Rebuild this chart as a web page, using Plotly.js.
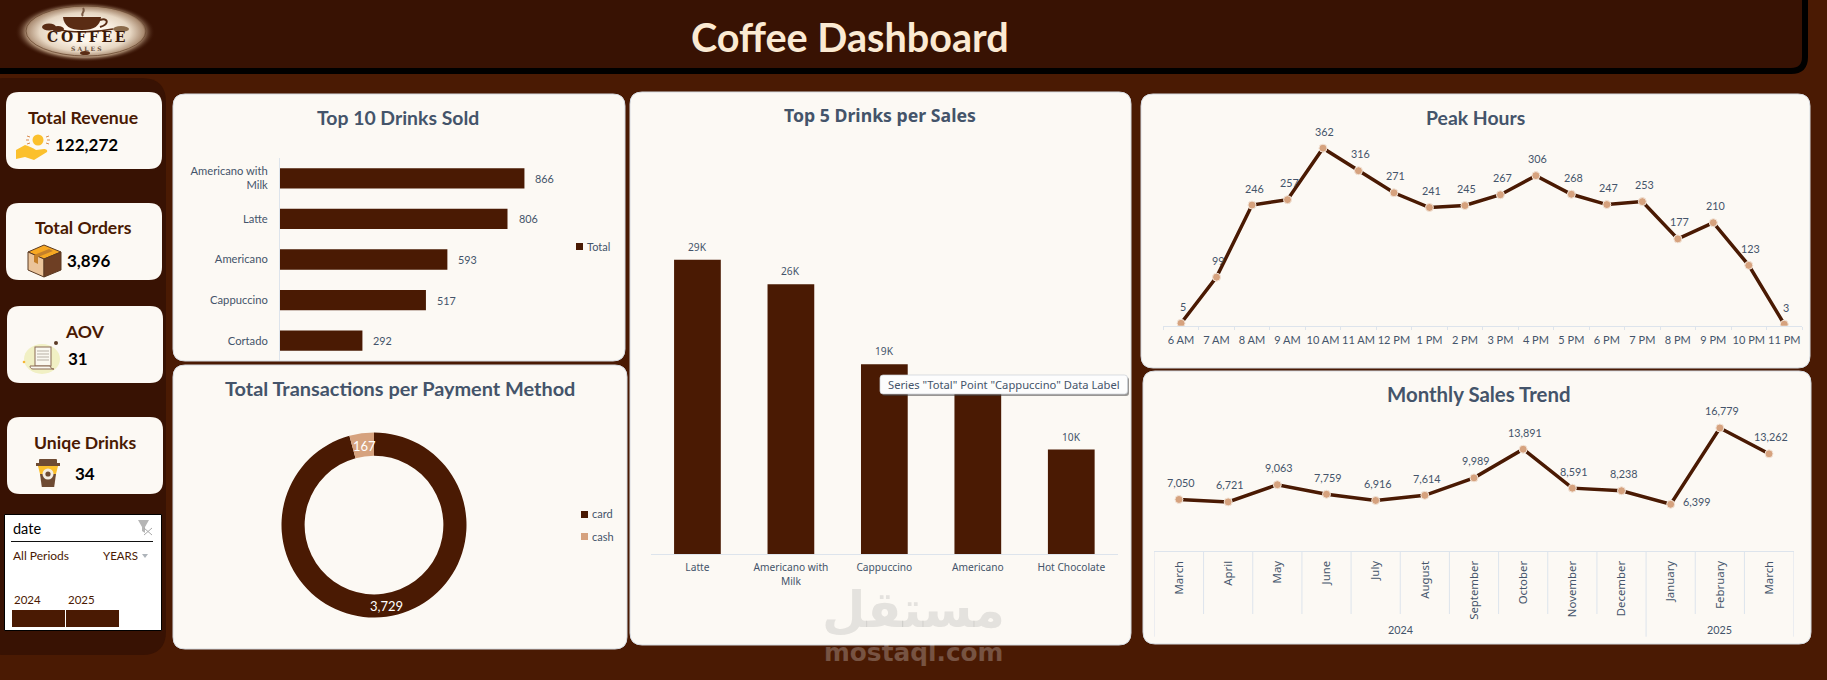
<!DOCTYPE html>
<html><head><meta charset="utf-8">
<script src="https://cdn.plot.ly/plotly-3.0.1.min.js"></script>
<style>html,body{margin:0;padding:0;background:#4A1A03;overflow:hidden}#c{width:1827px;height:680px}</style>
</head><body><div id="c"></div>
<script>
// ---- data ----
const topDrinks = ['Americano with Milk','Latte','Americano','Cappuccino','Cortado'];
const topDrinkTicks = ['Americano with<br>Milk','Latte','Americano','Cappuccino','Cortado'];
const topDrinkSold = [866,806,593,517,292];
const salesDrinks = ['Latte','Americano with Milk','Cappuccino','Americano','Hot Chocolate'];
const salesDrinkTicks = ['Latte','Americano with<br>Milk','Cappuccino','Americano','Hot Chocolate'];
const salesValues = [29000,26600,18700,16000,10300];
const salesLabels = ['29K','26K','19K','','10K'];
const paymentMethods = ['card','cash'];
const paymentCounts = [3729,167];
const hours = ['6 AM','7 AM','8 AM','9 AM','10 AM','11 AM','12 PM','1 PM','2 PM','3 PM','4 PM','5 PM','6 PM','7 PM','8 PM','9 PM','10 PM','11 PM'];
const hourCounts = [5,99,246,257,362,316,271,241,245,267,306,268,247,253,177,210,123,3];
const monthYears = ['2024','2024','2024','2024','2024','2024','2024','2024','2024','2024','2025','2025','2025'];
const months = ['March','April','May','June','July','August','September','October','November','December','January','February','March'];
const monthSales = [7050,6721,9063,7759,6916,7614,9989,13891,8591,8238,6399,16779,13262];
const kpis = [
  {t:'Total Revenue',v:'122,272',tx:83,ty:117,vx:86,vy:144},
  {t:'Total Orders',v:'3,896',tx:83,ty:228,vx:89,vy:260},
  {t:'AOV',v:'31',tx:84.5,ty:331,vx:78,vy:358},
  {t:'Uniqe Drinks',v:'34',tx:84.5,ty:442,vx:85,vy:473}
];

// ---- helpers ----
const W=1827,H=680;
const BG='#4A1A03',DARK='#381203',PANEL='#FCF9F4',INK='#44546A',BAR='#4A1A03',TAN='#D6A27E',AXIS='#DDE4EC';
const FONT='Lato, Carlito, sans-serif', WIDE='"Noto Sans", sans-serif';
const px=x=>x/W, py=y=>1-y/H;
const fx=(a,b)=>[px(a),px(b)], fy=(top,bottom)=>[py(bottom),py(top)];
function rr(x0,y0,x1,y1,r,c){
  c=c||[r,r,r,r];
  const P=(x,y)=>px(x)+','+py(y);
  return 'M'+P(x0+c[0],y0)+' L'+P(x1-c[1],y0)+' Q'+P(x1,y0)+' '+P(x1,y0+c[1])+
    ' L'+P(x1,y1-c[2])+' Q'+P(x1,y1)+' '+P(x1-c[2],y1)+
    ' L'+P(x0+c[3],y1)+' Q'+P(x0,y1)+' '+P(x0,y1-c[3])+
    ' L'+P(x0,y0+c[0])+' Q'+P(x0,y0)+' '+P(x0+c[0],y0)+' Z';
}
const shapes=[], annotations=[], images=[];
function box(x0,y0,x1,y1,r,fill,line,lw,layer){
  shapes.push({type:'path',xref:'paper',yref:'paper',path:rr(x0,y0,x1,y1,r),fillcolor:fill,
    line:{color:line||fill,width:lw===undefined?0:lw},layer:layer||'below'});
}
function rect(x0,y0,x1,y1,fill,layer){
  shapes.push({type:'rect',xref:'paper',yref:'paper',x0:px(x0),x1:px(x1),y0:py(y0),y1:py(y1),
    fillcolor:fill,line:{width:0},layer:layer||'below'});
}
function txt(s,x,y,size,color,o){
  o=o||{};
  annotations.push({text:s,xref:'paper',yref:'paper',x:px(x),y:py(y),xanchor:o.a||'center',yanchor:'middle',
    showarrow:false,borderpad:0,font:{family:o.f||FONT,size:size,color:color,weight:o.b?700:400}});
}
function icon(svg,x0,y0,x1,y1){
  images.push({source:'data:image/svg+xml;utf8,'+encodeURIComponent(svg),xref:'paper',yref:'paper',
    x:px(x0),y:py(y0),sizex:px(x1-x0),sizey:(y1-y0)/H,xanchor:'left',yanchor:'top',sizing:'stretch',layer:'above'});
}

// ---- frame ----
shapes.push({type:'path',xref:'paper',yref:'paper',path:rr(-30,-20,1805,71,14,[14,14,14,10]),fillcolor:DARK,line:{color:'#000',width:6},layer:'below'});
box(-20,78,166,655,24,DARK);
[[173,94,625,361],[173,365,627,649],[630,92,1131,645],[1141,94,1810,368],[1143,371,1811,644]].forEach(p=>{
  box(p[0],p[1],p[2],p[3],12,PANEL,'#D5DAE0',1);
});
[[6,92,162,169],[6,203,162,280],[7,306,163,383],[7,417,163,494]].forEach(p=>box(p[0],p[1],p[2],p[3],13,PANEL));
kpis.forEach(k=>{txt(k.t,k.tx,k.ty,17.6,BG,{b:1});txt(k.v,k.vx,k.vy,17,'#000',{b:1});});
txt('Coffee Dashboard',850,36,39.6,'#FBEAD3',{b:1});
icon(`<svg xmlns="http://www.w3.org/2000/svg" viewBox="0 0 140 64"><defs><radialGradient id="g"><stop offset="0.3" stop-color="#fff8ee"/><stop offset="0.65" stop-color="#e6d6c2"/><stop offset="0.84" stop-color="#a98a70"/><stop offset="1" stop-color="#381203" stop-opacity="0"/></radialGradient></defs><ellipse cx="70" cy="30" rx="70" ry="30" fill="url(#g)"/><ellipse cx="71" cy="29" rx="60" ry="25" fill="none" stroke="#6b4a32" stroke-width="0.8"/><path d="M48 15h38c-1 9-7 13-19 13s-18-4-19-13z" fill="#5a2c14"/><path d="M85 18c8-3 10 4 0 7" fill="none" stroke="#5a2c14" stroke-width="2"/><path d="M42 27c12 4 36 4 56 0" fill="none" stroke="#5a2c14" stroke-width="1.5"/><path d="M68 14c-3-3 3-4 0-8" fill="none" stroke="#7a5a44" stroke-width="2"/><ellipse cx="34" cy="25" rx="7" ry="3.5" fill="#5a2c14"/><ellipse cx="43" cy="27" rx="6" ry="3" fill="#5a2c14"/><ellipse cx="106" cy="27" rx="8" ry="3" fill="#8a6a4a"/><ellipse cx="70" cy="51" rx="5" ry="2" fill="#5a2c14"/></svg>`,15,2,155,66);
txt('C\u2009O\u2009F\u2009F\u2009E\u2009E',86,37,14,'#3A1A0A',{f:'"DejaVu Serif", serif',b:1});
txt('S A L E S',86,49,6,'#6a5040',{f:'"DejaVu Serif", serif',b:1});
icon(`<svg xmlns="http://www.w3.org/2000/svg" viewBox="0 0 34 28"><circle cx="22" cy="7" r="5.5" fill="#FBC02D"/><g stroke="#D98A4B" stroke-width="1"><path d="M11 3l3 1M10 7h3M11 11l3-1M33 3l-3 1M34 7h-3M33 11l-3-1"/></g><path d="M0 17l9-5c4 1 8 3 11 5l8-1c2 0 4 1 3 3l-13 8-9-3-9 2z" fill="#FBC02D"/></svg>`,16,133,50,161);
icon(`<svg xmlns="http://www.w3.org/2000/svg" viewBox="0 0 35 34"><path d="M17 1l17 7-17 7L1 8z" fill="#F7A823" stroke="#5b3a22"/><path d="M1 8l16 7v18L1 26z" fill="#EBC49A" stroke="#5b3a22"/><path d="M17 15l17-7v18l-17 7z" fill="#6E3F24" stroke="#5b3a22"/><path d="M7 11l15-6 4 2-15 6zM7 11v7l4 2v-7z" fill="#C47F2A"/></svg>`,27,244,62,278);
icon(`<svg xmlns="http://www.w3.org/2000/svg" viewBox="0 0 40 36"><ellipse cx="20" cy="18" rx="18" ry="15" fill="#F1F0C4"/><rect x="13" y="6" width="16" height="19" fill="#FAF8F0" stroke="#8a6a55"/><path d="M15 10h12M15 13h12M15 16h12M15 19h12" stroke="#b7b0a5"/><path d="M8 25h20c1 3 3 3 4 3H11c-3 0-3-3-3-3z" fill="#FAF8F0" stroke="#8a6a55"/><circle cx="34" cy="2" r="2" fill="#5a3a25"/><circle cx="2" cy="21" r="1.3" fill="#F7B733"/></svg>`,22,341,62,377);
icon(`<svg xmlns="http://www.w3.org/2000/svg" viewBox="0 0 24 28"><rect x="3" y="0" width="18" height="5" rx="1" fill="#6E4B33"/><rect x="0" y="4" width="24" height="3" fill="#6E4B33"/><path d="M2 7h20l-2 8H4z" fill="#FBC02D"/><path d="M4 15h16l-1.8 13H5.8z" fill="#6E4B33"/><circle cx="12" cy="15" r="5.5" fill="#F3EDE3"/><circle cx="12" cy="15" r="2.6" fill="#6E4B33"/></svg>`,36,459,60,487);

// ---- slicer ----
shapes.push({type:'rect',xref:'paper',yref:'paper',x0:px(4.5),x1:px(161.5),y0:py(514.5),y1:py(630.5),fillcolor:'#fff',line:{color:'#000',width:1},layer:'below'});
rect(11,541,153,542,'#111');
txt('date',12,528,14.5,'#000',{a:'left',b:0});
shapes.push({type:'path',xref:'paper',yref:'paper',path:'M'+px(138)+','+py(520)+' L'+px(149)+','+py(520)+' L'+px(145)+','+py(527)+' L'+px(145)+','+py(533)+' L'+px(142)+','+py(531)+' L'+px(142)+','+py(527)+' Z',fillcolor:'#B5B5B5',line:{width:0},layer:'below'});
shapes.push({type:'path',xref:'paper',yref:'paper',path:'M'+px(144)+','+py(528)+' L'+px(152)+','+py(535)+' M'+px(152)+','+py(528)+' L'+px(144)+','+py(535),line:{color:'#A8A8A8',width:1},layer:'below'});
txt('All Periods',12,555,12,BG,{a:'left'});
txt('YEARS',120,555,11.5,BG);
shapes.push({type:'path',xref:'paper',yref:'paper',path:'M'+px(142)+','+py(554)+' L'+px(148)+','+py(554)+' L'+px(145)+','+py(558)+' Z',fillcolor:'#AEB4BA',line:{width:0},layer:'below'});
txt('2024',13,599,11.5,BG,{a:'left'});
txt('2025',67,599,11.5,BG,{a:'left'});
rect(12,610,65,627,BAR);
rect(66,610,119,627,BAR);

// ---- chart titles ----
txt('Top 10 Drinks Sold',398,117,19.4,INK,{b:1});
txt('Total Transactions per Payment Method',400,388,19.9,INK,{b:1});
txt('Top 5 Drinks per Sales',880,115,17.7,INK,{b:1,f:WIDE});
txt('Peak Hours',1475,117,19.4,INK,{b:1});
txt('Monthly Sales Trend',1478,394,20.4,INK,{b:1});

// ---- legends ----
rect(576,243,583,250,BAR); txt('Total',586,246,11,INK,{a:'left'});
rect(581,511,588,518,BAR); txt('card',590.5,513,11,INK,{a:'left'});
rect(581,533,588,540,TAN); txt('cash',590.5,536,11,INK,{a:'left'});

// ---- data labels ----
const labelFont={family:FONT,size:10.8,color:INK};
topDrinkSold.forEach((v,i)=>annotations.push({text:String(v),xref:'x',yref:'y',x:v,y:topDrinks[i],xanchor:'left',yanchor:'middle',xshift:9,showarrow:false,font:labelFont}));
salesValues.forEach((v,i)=>{ if(salesLabels[i]) annotations.push({text:salesLabels[i],xref:'x2',yref:'y2',x:salesDrinks[i],y:v,xanchor:'center',yanchor:'middle',yshift:13,showarrow:false,font:{family:WIDE,size:10.2,color:INK}});});
hourCounts.forEach((v,i)=>annotations.push({text:String(v),xref:'x3',yref:'y3',x:i,y:v,xanchor:'center',yanchor:'middle',xshift:2,yshift:17,showarrow:false,font:labelFont}));
monthSales.forEach((v,i)=>{const low=v===Math.min(...monthSales);annotations.push({text:v.toLocaleString('en-US'),xref:'x4',yref:'y4',x:i,y:v,xanchor:'center',yanchor:'middle',xshift:low?26:2,yshift:low?3:17,showarrow:false,font:labelFont});});
annotations.push({text:paymentCounts[0].toLocaleString('en-US'),xref:'paper',yref:'paper',x:px(386),y:py(605.7),showarrow:false,xanchor:'center',yanchor:'middle',font:{family:FONT,size:13,color:'#fff'}});
annotations.push({text:String(paymentCounts[1]),xref:'paper',yref:'paper',x:px(364.5),y:py(445.7),showarrow:false,xanchor:'center',yanchor:'middle',font:{family:FONT,size:13,color:'#fff'}});

// ---- month axis dividers and year labels ----
const monthIdx = months.map((m,i)=>i);
const divider=(x,bottom)=>shapes.push({type:'line',xref:'x4',yref:'paper',x0:x,x1:x,y0:py(551.3),y1:py(bottom),line:{color:AXIS,width:1},layer:'below'});
for(let i=0;i<=months.length;i++){
  const edge=i===0||i===months.length||monthYears[i]!==monthYears[i-1];
  divider(i-0.5,edge?636.7:614);
}
[...new Set(monthYears)].forEach(y=>{
  const first=monthYears.indexOf(y),last=monthYears.lastIndexOf(y);
  annotations.push({text:y,xref:'x4',yref:'paper',x:(first+last)/2,y:py(629),showarrow:false,xanchor:'center',yanchor:'middle',font:{family:FONT,size:10.8,color:INK}});
});

// ---- tooltip and watermark ----
box(882,377,1129,396,3,'rgba(70,70,70,0.55)',null,0,'above');
box(880,375,1127.5,394,3,'#FDFDFD','#C9CED6',0.7,'above');
txt('Series "Total" Point "Cappuccino" Data Label',1004,384.5,11.2,INK,{f:WIDE});
txt('مستقل',913,610,50,'rgba(120,120,120,0.18)',{f:'"DejaVu Sans", sans-serif',b:1});
txt('mostaql.com',913,652,24.8,'rgba(255,255,255,0.25)',{f:'"DejaVu Sans", sans-serif',b:1});

// ---- traces ----
const lineMarker={color:TAN,size:8,line:{color:'#F3E6DA',width:1}};
const data=[
 {type:'bar',orientation:'h',y:topDrinks,x:topDrinkSold,xaxis:'x',yaxis:'y',marker:{color:BAR},width:0.5,hoverinfo:'skip',showlegend:false},
 {type:'bar',x:salesDrinks,y:salesValues,xaxis:'x2',yaxis:'y2',marker:{color:BAR},width:0.5,hoverinfo:'skip',showlegend:false},
 {type:'scatter',mode:'lines+markers',x:hours,y:hourCounts,xaxis:'x3',yaxis:'y3',line:{color:BAR,width:3.5},marker:lineMarker,hoverinfo:'skip',showlegend:false},
 {type:'scatter',mode:'lines+markers',x:monthIdx,y:monthSales,xaxis:'x4',yaxis:'y4',line:{color:BAR,width:3.5},marker:lineMarker,hoverinfo:'skip',showlegend:false},
 {type:'pie',labels:paymentMethods,values:paymentCounts,hole:0.75,sort:false,direction:'clockwise',rotation:0,
  domain:{x:fx(281.5,466.5),y:fy(432.5,617.5)},marker:{colors:[BAR,TAN],line:{width:0}},
  textinfo:'none',hoverinfo:'skip',showlegend:false,automargin:false}
];
const layout={
 width:W,height:H,margin:{l:0,r:0,t:0,b:0,pad:0},paper_bgcolor:BG,plot_bgcolor:'rgba(0,0,0,0)',showlegend:false,
 hovermode:false,shapes,annotations,images,
 xaxis:{domain:fx(280,560),range:[0,992],visible:false,fixedrange:true},
 yaxis:{domain:fy(158,361),type:'category',categoryorder:'array',categoryarray:topDrinks,autorange:false,range:[4.5,-0.5],tickmode:'array',tickvals:topDrinks,ticktext:topDrinkTicks,
   showgrid:false,zeroline:false,showline:true,linecolor:AXIS,linewidth:1,ticks:'',tickfont:{family:FONT,size:11.2,color:INK},ticklabelstandoff:9,anchor:'x',fixedrange:true},
 xaxis2:{domain:fx(650.7,1118),type:'category',tickmode:'array',tickvals:salesDrinks,ticktext:salesDrinkTicks,anchor:'y2',
   showgrid:false,showline:true,linecolor:AXIS,ticks:'',tickfont:{family:WIDE,size:10.2,color:INK},fixedrange:true,ticklabelstandoff:4},
 yaxis2:{domain:fy(130,554),range:[0,41800],visible:false,fixedrange:true,anchor:'x2'},
 xaxis3:{domain:fx(1163.3,1802),type:'category',range:[-0.5,17.5],anchor:'y3',showgrid:false,showline:true,linecolor:AXIS,ticks:'outside',ticklen:3,tickcolor:AXIS,tickson:'boundaries',tickangle:0,tickfont:{family:FONT,size:11,color:INK},ticklabelstandoff:4,fixedrange:true},
 yaxis3:{domain:fy(120,325.7),range:[0,419.4],visible:false,fixedrange:true,anchor:'x3'},
 xaxis4:{domain:fx(1154.4,1793.6),type:'linear',range:[-0.5,12.5],anchor:'y4',showgrid:false,zeroline:false,showline:true,linecolor:AXIS,ticks:'',tickmode:'array',tickvals:monthIdx,ticktext:months,tickangle:-90,tickfont:{family:WIDE,size:11.4,color:INK},ticklabelstandoff:4,fixedrange:true},
 yaxis4:{domain:fy(410,551.3),range:[0,19224],visible:false,fixedrange:true,anchor:'x4'}
};
Plotly.newPlot('c',data,layout,{displayModeBar:false,staticPlot:true});
</script></body></html>
